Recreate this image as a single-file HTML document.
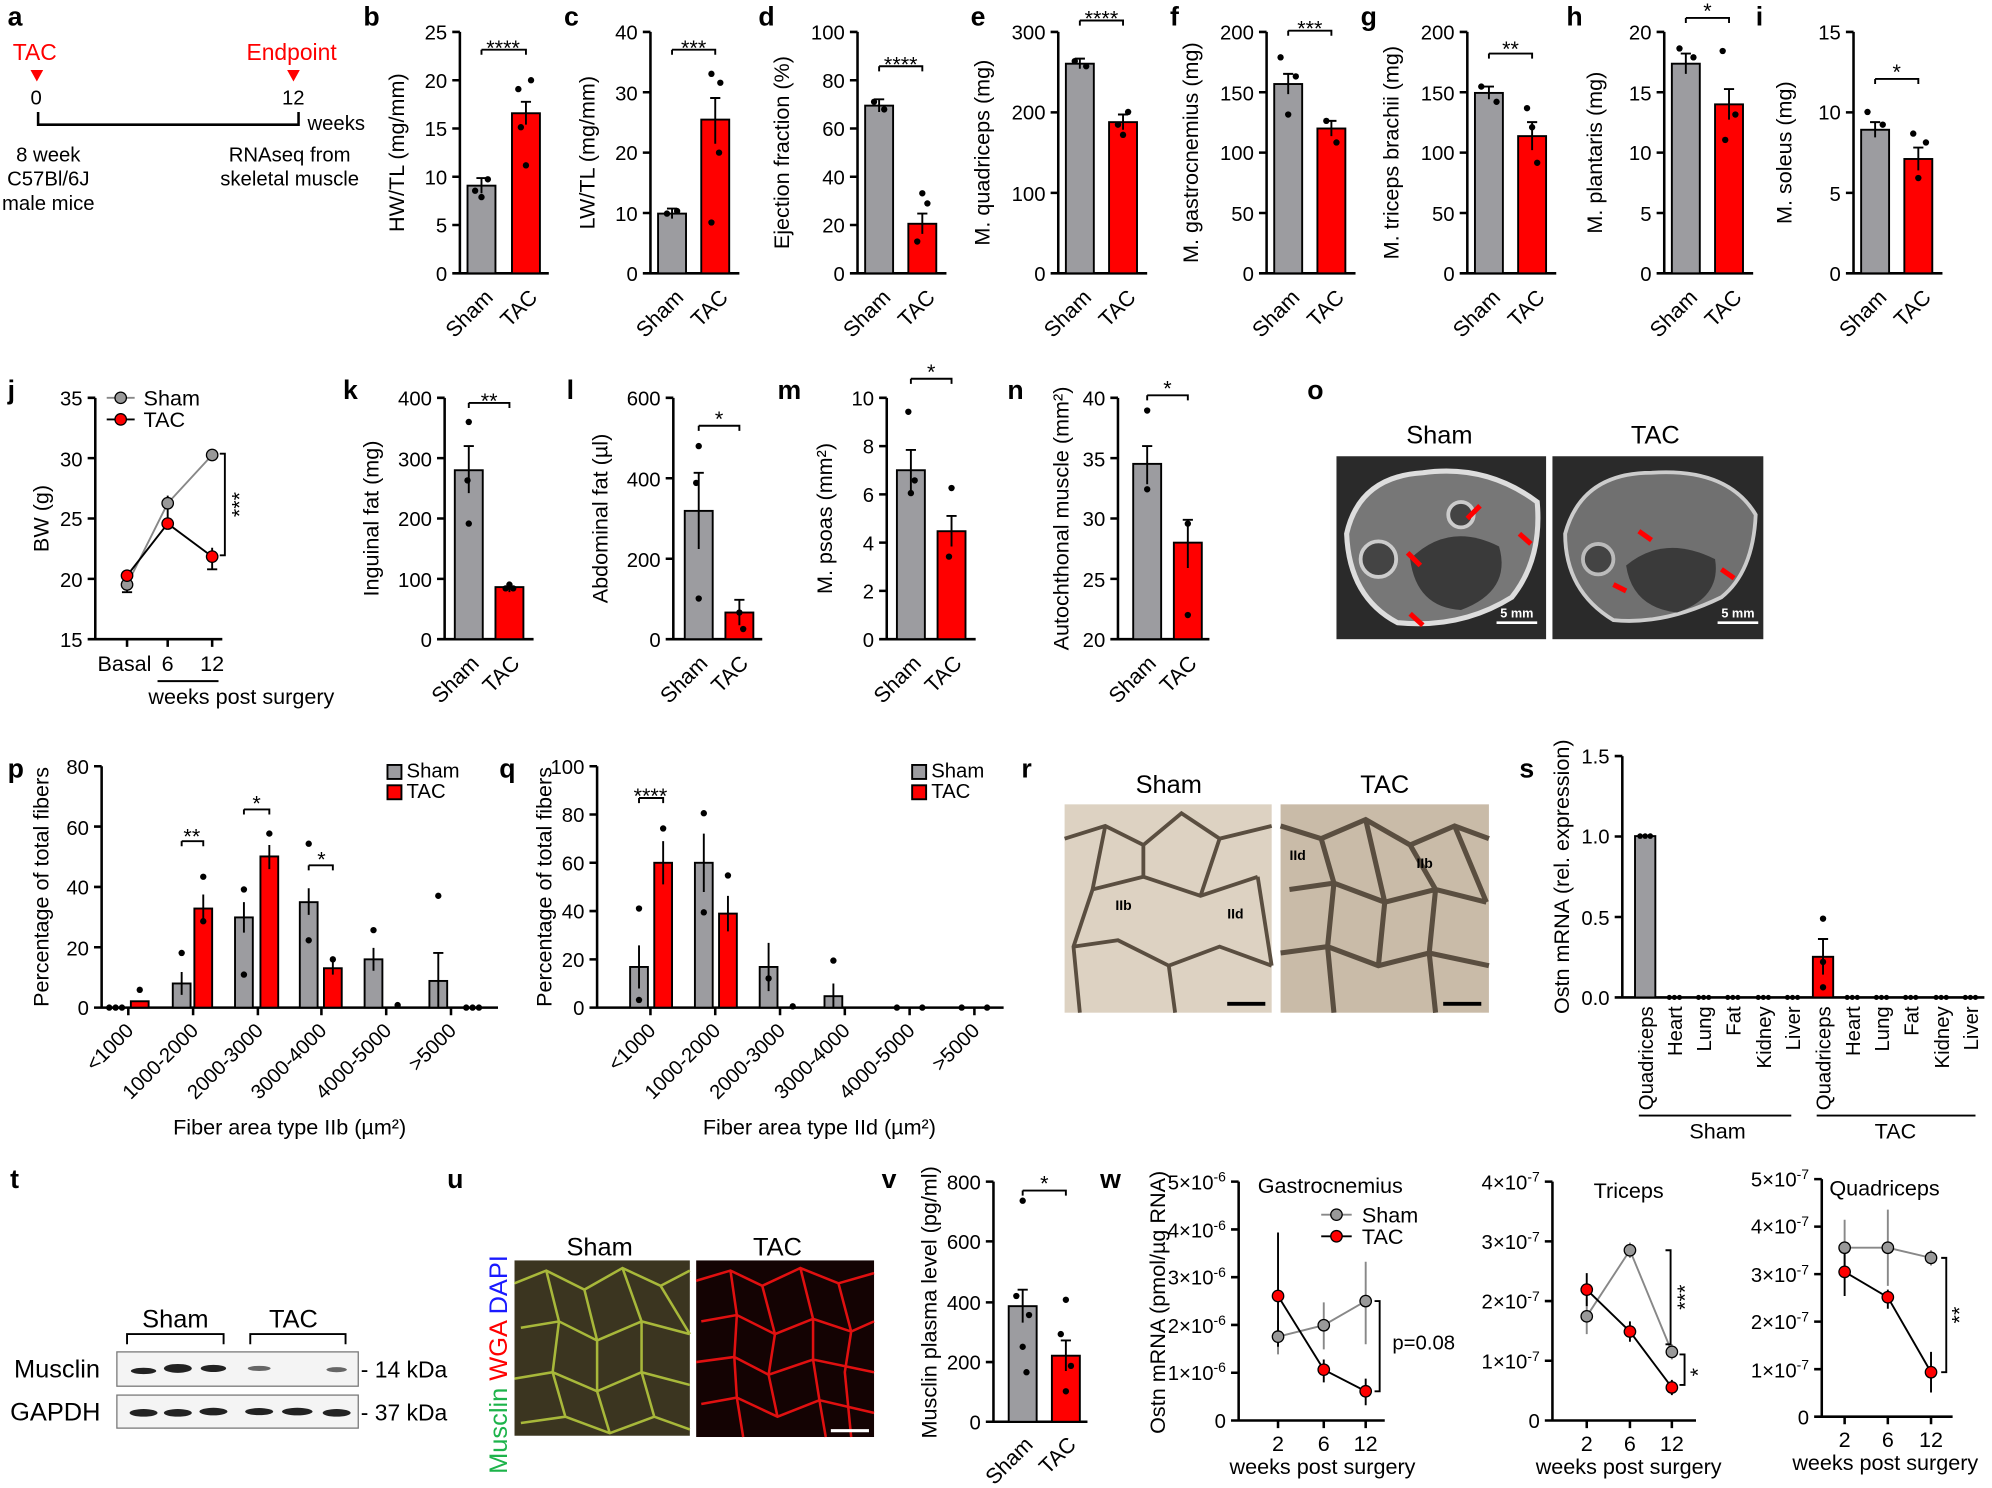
<!DOCTYPE html>
<html><head><meta charset="utf-8"><style>
html,body{margin:0;padding:0;background:#fff}
svg{display:block}
text{font-family:"Liberation Sans",sans-serif;fill:#000}
.t{font-size:16px}
.L{font-size:17px}
.H{font-size:20px}
.P{font-size:21px;font-weight:bold}
.g{fill:#9c9ca0;stroke:#000;stroke-width:1.5}
.r{fill:#f00;stroke:#000;stroke-width:1.5}
.ax{stroke:#000;stroke-width:2;fill:none}
.e{stroke:#000;stroke-width:1.5;fill:none}
</style></head><body>
<svg width="1992" height="1488" viewBox="0 0 1568 1171" xmlns="http://www.w3.org/2000/svg">
<!-- panel letters -->
<text class="P" x="6" y="20">a</text><text class="P" x="286" y="20">b</text><text class="P" x="444" y="20">c</text>
<text class="P" x="597" y="20">d</text><text class="P" x="764" y="20">e</text><text class="P" x="921" y="20">f</text>
<text class="P" x="1071" y="20">g</text><text class="P" x="1233" y="20">h</text><text class="P" x="1382" y="20">i</text>
<text class="P" x="6" y="314">j</text><text class="P" x="270" y="314">k</text><text class="P" x="446" y="314">l</text>
<text class="P" x="612" y="314">m</text><text class="P" x="793" y="314">n</text><text class="P" x="1029" y="314">o</text>
<text class="P" x="6" y="612">p</text><text class="P" x="393" y="612">q</text><text class="P" x="804" y="612">r</text>
<text class="P" x="1196" y="612">s</text>
<text class="P" x="8" y="935">t</text><text class="P" x="352" y="935">u</text><text class="P" x="694" y="935">v</text><text class="P" x="866" y="935">w</text>

<!-- a -->
<text x="10" y="47" font-size="18" style="fill:#f00">TAC</text>
<polygon points="24,55 34,55 29,64" fill="#f00"/>
<text class="t" x="24" y="82">0</text>
<text x="194" y="47" font-size="18" style="fill:#f00">Endpoint</text>
<polygon points="226,55 236,55 231,64" fill="#f00"/>
<text class="t" x="222" y="82">12</text>
<path class="ax" d="M30,88V98H235V88"/>
<text class="t" x="242" y="102">weeks</text>
<text class="t" x="38" y="127" text-anchor="middle">8 week</text>
<text class="t" x="38" y="146" text-anchor="middle">C57Bl/6J</text>
<text class="t" x="38" y="165" text-anchor="middle">male mice</text>
<text class="t" x="228" y="127" text-anchor="middle">RNAseq from</text>
<text class="t" x="228" y="146" text-anchor="middle">skeletal muscle</text>

<!-- b -->
<g>
<path class="ax" d="M362,25V215H432M356,25H362M356,63H362M356,101H362M356,139H362M356,177H362M356,215H362"/>
<g class="t" text-anchor="end"><text x="352" y="31">25</text><text x="352" y="69">20</text><text x="352" y="107">15</text><text x="352" y="145">10</text><text x="352" y="183">5</text><text x="352" y="221">0</text></g>
<rect class="g" x="368" y="146" width="22" height="69"/><rect class="r" x="403" y="89" width="22" height="126"/>
<path class="e" d="M379,140V152M375,140H383M414,80V98M410,80H418"/>
<path class="e" d="M379,39V43M379,39H414V43"/><text class="L" x="396" y="43" text-anchor="middle">****</text>
<text class="L" transform="translate(318,120) rotate(-90)" text-anchor="middle">HW/TL (mg/mm)</text>
<text class="L" transform="translate(389,235) rotate(-45)" text-anchor="end">Sham</text>
<text class="L" transform="translate(424,235) rotate(-45)" text-anchor="end">TAC</text>
<g fill="#000"><circle cx="374" cy="150" r="2.5"/><circle cx="384" cy="141" r="2.5"/><circle cx="379" cy="155" r="2.5"/><circle cx="408" cy="70" r="2.5"/><circle cx="418" cy="63" r="2.5"/><circle cx="414" cy="130" r="2.5"/><circle cx="410" cy="100" r="2.5"/></g>
</g>
<!-- c -->
<g>
<path class="ax" d="M512,25V215H582M506,25H512M506,72.5H512M506,120H512M506,167.5H512M506,215H512"/>
<g class="t" text-anchor="end"><text x="502" y="31">40</text><text x="502" y="79">30</text><text x="502" y="126">20</text><text x="502" y="174">10</text><text x="502" y="221">0</text></g>
<rect class="g" x="518" y="168" width="22" height="47"/><rect class="r" x="552" y="94" width="22" height="121"/>
<path class="e" d="M529,164V172M525,164H533M563,77V113M559,77H567"/>
<path class="e" d="M529,39V43M529,39H563V43"/><text class="L" x="546" y="43" text-anchor="middle">***</text>
<text class="L" transform="translate(468,120) rotate(-90)" text-anchor="middle">LW/TL (mg/mm)</text>
<text class="L" transform="translate(539,235) rotate(-45)" text-anchor="end">Sham</text>
<text class="L" transform="translate(574,235) rotate(-45)" text-anchor="end">TAC</text>
<g fill="#000"><circle cx="560" cy="58" r="2.5"/><circle cx="567" cy="65" r="2.5"/><circle cx="560" cy="175" r="2.5"/><circle cx="566" cy="120" r="2.5"/><circle cx="525" cy="168" r="2.5"/><circle cx="533" cy="166" r="2.5"/></g>
</g>
<!-- d -->
<g>
<path class="ax" d="M675,25V215H745M669,25H675M669,63H675M669,101H675M669,139H675M669,177H675M669,215H675"/>
<g class="t" text-anchor="end"><text x="665" y="31">100</text><text x="665" y="69">80</text><text x="665" y="107">60</text><text x="665" y="145">40</text><text x="665" y="183">20</text><text x="665" y="221">0</text></g>
<rect class="g" x="681" y="83" width="22" height="132"/><rect class="r" x="715" y="176" width="22" height="39"/>
<path class="e" d="M692,78V88M688,78H696M726,168V184M722,168H730"/>
<path class="e" d="M692,52V56M692,52H726V56"/><text class="L" x="709" y="56" text-anchor="middle">****</text>
<text class="L" transform="translate(621,120) rotate(-90)" text-anchor="middle">Ejection fraction (%)</text>
<text class="L" transform="translate(702,235) rotate(-45)" text-anchor="end">Sham</text>
<text class="L" transform="translate(737,235) rotate(-45)" text-anchor="end">TAC</text>
<g fill="#000"><circle cx="688" cy="80" r="2.5"/><circle cx="696" cy="86" r="2.5"/><circle cx="722" cy="190" r="2.5"/><circle cx="730" cy="160" r="2.5"/><circle cx="726" cy="152" r="2.5"/></g>
</g>
<!-- e -->
<g>
<path class="ax" d="M833,25V215H903M827,25H833M827,88.3H833M827,151.7H833M827,215H833"/>
<g class="t" text-anchor="end"><text x="823" y="31">300</text><text x="823" y="94">200</text><text x="823" y="158">100</text><text x="823" y="221">0</text></g>
<rect class="g" x="839" y="50" width="22" height="165"/><rect class="r" x="873" y="96" width="22" height="119"/>
<path class="e" d="M850,46V54M846,46H854M884,90V102M880,90H888"/>
<path class="e" d="M850,16V20M850,16H884V20"/><text class="L" x="867" y="20" text-anchor="middle">****</text>
<text class="L" transform="translate(779,120) rotate(-90)" text-anchor="middle">M. quadriceps (mg)</text>
<text class="L" transform="translate(860,235) rotate(-45)" text-anchor="end">Sham</text>
<text class="L" transform="translate(895,235) rotate(-45)" text-anchor="end">TAC</text>
<g fill="#000"><circle cx="846" cy="48" r="2.5"/><circle cx="855" cy="52" r="2.5"/><circle cx="880" cy="98" r="2.5"/><circle cx="888" cy="88" r="2.5"/><circle cx="884" cy="106" r="2.5"/></g>
</g>
<!-- f -->
<g>
<path class="ax" d="M997,25V215H1067M991,25H997M991,72.5H997M991,120H997M991,167.5H997M991,215H997"/>
<g class="t" text-anchor="end"><text x="987" y="31">200</text><text x="987" y="79">150</text><text x="987" y="126">100</text><text x="987" y="174">50</text><text x="987" y="221">0</text></g>
<rect class="g" x="1003" y="66" width="22" height="149"/><rect class="r" x="1037" y="101" width="22" height="114"/>
<path class="e" d="M1014,58V74M1010,58H1018M1048,95V107M1044,95H1052"/>
<path class="e" d="M1014,24V28M1014,24H1048V28"/><text class="L" x="1031" y="28" text-anchor="middle">***</text>
<text class="L" transform="translate(943,120) rotate(-90)" text-anchor="middle">M. gastrocnemius (mg)</text>
<text class="L" transform="translate(1024,235) rotate(-45)" text-anchor="end">Sham</text>
<text class="L" transform="translate(1059,235) rotate(-45)" text-anchor="end">TAC</text>
<g fill="#000"><circle cx="1008" cy="45" r="2.5"/><circle cx="1020" cy="60" r="2.5"/><circle cx="1014" cy="90" r="2.5"/><circle cx="1044" cy="95" r="2.5"/><circle cx="1052" cy="112" r="2.5"/></g>
</g>
<!-- g -->
<g>
<path class="ax" d="M1155,25V215H1225M1149,25H1155M1149,72.5H1155M1149,120H1155M1149,167.5H1155M1149,215H1155"/>
<g class="t" text-anchor="end"><text x="1145" y="31">200</text><text x="1145" y="79">150</text><text x="1145" y="126">100</text><text x="1145" y="174">50</text><text x="1145" y="221">0</text></g>
<rect class="g" x="1161" y="73" width="22" height="142"/><rect class="r" x="1195" y="107" width="22" height="108"/>
<path class="e" d="M1172,68V78M1168,68H1176M1206,96V118M1202,96H1210"/>
<path class="e" d="M1172,42V46M1172,42H1206V46"/><text class="L" x="1189" y="44" text-anchor="middle">**</text>
<text class="L" transform="translate(1101,120) rotate(-90)" text-anchor="middle">M. triceps brachii (mg)</text>
<text class="L" transform="translate(1182,235) rotate(-45)" text-anchor="end">Sham</text>
<text class="L" transform="translate(1217,235) rotate(-45)" text-anchor="end">TAC</text>
<g fill="#000"><circle cx="1166" cy="68" r="2.5"/><circle cx="1178" cy="80" r="2.5"/><circle cx="1202" cy="85" r="2.5"/><circle cx="1210" cy="128" r="2.5"/><circle cx="1206" cy="100" r="2.5"/></g>
</g>
<!-- h -->
<g>
<path class="ax" d="M1310,25V215H1380M1304,25H1310M1304,72.5H1310M1304,120H1310M1304,167.5H1310M1304,215H1310"/>
<g class="t" text-anchor="end"><text x="1300" y="31">20</text><text x="1300" y="79">15</text><text x="1300" y="126">10</text><text x="1300" y="174">5</text><text x="1300" y="221">0</text></g>
<rect class="g" x="1316" y="50" width="22" height="165"/><rect class="r" x="1350" y="82" width="22" height="133"/>
<path class="e" d="M1327,42V58M1323,42H1331M1361,70V94M1357,70H1365"/>
<path class="e" d="M1327,14V18M1327,14H1361V18"/><text class="L" x="1344" y="14" text-anchor="middle">*</text>
<text class="L" transform="translate(1261,120) rotate(-90)" text-anchor="middle">M. plantaris (mg)</text>
<text class="L" transform="translate(1337,235) rotate(-45)" text-anchor="end">Sham</text>
<text class="L" transform="translate(1372,235) rotate(-45)" text-anchor="end">TAC</text>
<g fill="#000"><circle cx="1322" cy="38" r="2.5"/><circle cx="1333" cy="45" r="2.5"/><circle cx="1356" cy="40" r="2.5"/><circle cx="1366" cy="90" r="2.5"/><circle cx="1358" cy="110" r="2.5"/></g>
</g>
<!-- i -->
<g>
<path class="ax" d="M1459,25V215H1529M1453,25H1459M1453,88.3H1459M1453,151.7H1459M1453,215H1459"/>
<g class="t" text-anchor="end"><text x="1449" y="31">15</text><text x="1449" y="94">10</text><text x="1449" y="158">5</text><text x="1449" y="221">0</text></g>
<rect class="g" x="1465" y="102" width="22" height="113"/><rect class="r" x="1499" y="125" width="22" height="90"/>
<path class="e" d="M1476,96V108M1472,96H1480M1510,116V134M1506,116H1514"/>
<path class="e" d="M1476,62V66M1476,62H1510V66"/><text class="L" x="1493" y="62" text-anchor="middle">*</text>
<text class="L" transform="translate(1410,120) rotate(-90)" text-anchor="middle">M. soleus (mg)</text>
<text class="L" transform="translate(1486,235) rotate(-45)" text-anchor="end">Sham</text>
<text class="L" transform="translate(1521,235) rotate(-45)" text-anchor="end">TAC</text>
<g fill="#000"><circle cx="1470" cy="88" r="2.5"/><circle cx="1482" cy="98" r="2.5"/><circle cx="1506" cy="105" r="2.5"/><circle cx="1516" cy="112" r="2.5"/><circle cx="1510" cy="140" r="2.5"/></g>
</g>

<!-- j -->
<g>
<path class="ax" d="M75,313V503H175M69,313H75M69,360.5H75M69,408H75M69,455.5H75M69,503H75M100,503V509M132,503V509M167,503V509"/>
<g class="t" text-anchor="end"><text x="65" y="319">35</text><text x="65" y="367">30</text><text x="65" y="414">25</text><text x="65" y="462">20</text><text x="65" y="509">15</text></g>
<text class="L" transform="translate(38,408) rotate(-90)" text-anchor="middle">BW (g)</text>
<path stroke="#888" stroke-width="1.5" fill="none" d="M100,460L132,396L167,358"/>
<path stroke="#000" stroke-width="1.5" fill="none" d="M100,453L132,412L167,438M100,453V466M132,390V416M167,431V448M96,466H104M163,448H171"/>
<g stroke="#000" stroke-width="1"><circle cx="100" cy="460" r="4.5" fill="#999"/><circle cx="132" cy="396" r="4.5" fill="#999"/><circle cx="167" cy="358" r="4.5" fill="#999"/><circle cx="100" cy="453" r="4.5" fill="#f00"/><circle cx="132" cy="412" r="4.5" fill="#f00"/><circle cx="167" cy="438" r="4.5" fill="#f00"/></g>
<path stroke="#888" stroke-width="1.5" d="M84,313H106"/><circle cx="95" cy="313" r="4.5" fill="#999" stroke="#000"/>
<path stroke="#000" stroke-width="1.5" d="M84,330H106"/><circle cx="95" cy="330" r="4.5" fill="#f00" stroke="#000"/>
<text class="L" x="113" y="319">Sham</text><text class="L" x="113" y="336">TAC</text>
<path class="e" d="M173,357H177V437H173"/>
<text class="L" transform="translate(194,397) rotate(-90)" text-anchor="middle">***</text>
<text class="L" x="98" y="528" text-anchor="middle">Basal</text><text class="L" x="132" y="528" text-anchor="middle">6</text><text class="L" x="167" y="528" text-anchor="middle">12</text>
<path class="e" d="M124,536H172"/>
<text class="L" x="190" y="554" text-anchor="middle">weeks post surgery</text>
</g>
<!-- k -->
<g>
<path class="ax" d="M350,313V503H420M344,313H350M344,360.5H350M344,408H350M344,455.5H350M344,503H350"/>
<g class="t" text-anchor="end"><text x="340" y="319">400</text><text x="340" y="367">300</text><text x="340" y="414">200</text><text x="340" y="462">100</text><text x="340" y="509">0</text></g>
<rect class="g" x="358" y="370" width="22" height="133"/><rect class="r" x="390" y="462" width="22" height="41"/>
<path class="e" d="M369,351V388M365,351H373M401,458V466"/>
<path class="e" d="M369,317V321M369,317H401V321"/><text class="L" x="385" y="321" text-anchor="middle">**</text>
<text class="L" transform="translate(298,408) rotate(-90)" text-anchor="middle">Inguinal fat (mg)</text>
<text class="L" transform="translate(378,523) rotate(-45)" text-anchor="end">Sham</text>
<text class="L" transform="translate(410,523) rotate(-45)" text-anchor="end">TAC</text>
<g fill="#000"><circle cx="369" cy="332" r="2.5"/><circle cx="369" cy="412" r="2.5"/><circle cx="368" cy="378" r="2.5"/><circle cx="401" cy="460" r="2.5"/><circle cx="398" cy="463" r="2.5"/><circle cx="404" cy="463" r="2.5"/></g>
</g>
<!-- l -->
<g>
<path class="ax" d="M530,313V503H600M524,313H530M524,376.3H530M524,439.7H530M524,503H530"/>
<g class="t" text-anchor="end"><text x="520" y="319">600</text><text x="520" y="383">400</text><text x="520" y="446">200</text><text x="520" y="509">0</text></g>
<rect class="g" x="539" y="402" width="22" height="101"/><rect class="r" x="571" y="482" width="22" height="21"/>
<path class="e" d="M550,372V432M546,372H554M582,472V492M578,472H586"/>
<path class="e" d="M550,335V339M550,335H582V339"/><text class="L" x="566" y="335" text-anchor="middle">*</text>
<text class="L" transform="translate(478,408) rotate(-90)" text-anchor="middle">Abdominal fat (µl)</text>
<text class="L" transform="translate(558,523) rotate(-45)" text-anchor="end">Sham</text>
<text class="L" transform="translate(590,523) rotate(-45)" text-anchor="end">TAC</text>
<g fill="#000"><circle cx="550" cy="351" r="2.5"/><circle cx="550" cy="471" r="2.5"/><circle cx="548" cy="380" r="2.5"/><circle cx="582" cy="482" r="2.5"/><circle cx="585" cy="495" r="2.5"/></g>
</g>
<!-- m -->
<g>
<path class="ax" d="M698,313V503H768M692,313H698M692,351H698M692,389H698M692,427H698M692,465H698M692,503H698"/>
<g class="t" text-anchor="end"><text x="688" y="319">10</text><text x="688" y="357">8</text><text x="688" y="395">6</text><text x="688" y="433">4</text><text x="688" y="471">2</text><text x="688" y="509">0</text></g>
<rect class="g" x="706" y="370" width="22" height="133"/><rect class="r" x="738" y="418" width="22" height="85"/>
<path class="e" d="M717,354V388M713,354H721M749,406V430M745,406H753"/>
<path class="e" d="M717,298V302M717,298H749V302"/><text class="L" x="733" y="298" text-anchor="middle">*</text>
<text class="L" transform="translate(655,408) rotate(-90)" text-anchor="middle">M. psoas (mm²)</text>
<text class="L" transform="translate(726,523) rotate(-45)" text-anchor="end">Sham</text>
<text class="L" transform="translate(758,523) rotate(-45)" text-anchor="end">TAC</text>
<g fill="#000"><circle cx="715" cy="324" r="2.5"/><circle cx="717" cy="388" r="2.5"/><circle cx="720" cy="378" r="2.5"/><circle cx="749" cy="384" r="2.5"/><circle cx="747" cy="438" r="2.5"/></g>
</g>
<!-- n -->
<g>
<path class="ax" d="M880,313V503H952M874,313H880M874,360.5H880M874,408H880M874,455.5H880M874,503H880"/>
<g class="t" text-anchor="end"><text x="870" y="319">40</text><text x="870" y="367">35</text><text x="870" y="414">30</text><text x="870" y="462">25</text><text x="870" y="509">20</text></g>
<rect class="g" x="892" y="365" width="22" height="138"/><rect class="r" x="924" y="427" width="22" height="76"/>
<path class="e" d="M903,351V381M899,351H907M935,409V447M931,409H939"/>
<path class="e" d="M903,311V315M903,311H935V315"/><text class="L" x="919" y="311" text-anchor="middle">*</text>
<text class="L" transform="translate(841,408) rotate(-90)" text-anchor="middle">Autochthonal muscle (mm²)</text>
<text class="L" transform="translate(911,523) rotate(-45)" text-anchor="end">Sham</text>
<text class="L" transform="translate(943,523) rotate(-45)" text-anchor="end">TAC</text>
<g fill="#000"><circle cx="903" cy="323" r="2.5"/><circle cx="903" cy="385" r="2.5"/><circle cx="935" cy="412" r="2.5"/><circle cx="935" cy="484" r="2.5"/></g>
</g>
<!-- o -->
<g>
<text class="H" x="1133" y="349" text-anchor="middle">Sham</text>
<text class="H" x="1303" y="349" text-anchor="middle">TAC</text>
<rect x="1052" y="359" width="165" height="144" fill="#2a2a2a"/>
<rect x="1222" y="359" width="166" height="144" fill="#2a2a2a"/>
<path d="M1060,420Q1070,375 1120,372Q1170,365 1210,395Q1214,440 1190,470Q1150,495 1100,490Q1062,470 1060,420Z" fill="#777" stroke="#ddd" stroke-width="4"/>
<path d="M1110,440Q1140,410 1180,430Q1190,465 1150,480Q1115,478 1110,440Z" fill="#3a3a3a"/>
<circle cx="1085" cy="440" r="14" fill="#444" stroke="#ccc" stroke-width="3"/>
<circle cx="1150" cy="405" r="10" fill="#444" stroke="#ccc" stroke-width="3"/>
<path d="M1232,420Q1245,372 1300,372Q1360,368 1382,405Q1380,450 1355,470Q1310,492 1270,488Q1232,465 1232,420Z" fill="#707070" stroke="#ccc" stroke-width="3"/>
<path d="M1280,445Q1310,420 1350,440Q1355,470 1320,482Q1285,478 1280,445Z" fill="#3a3a3a"/>
<circle cx="1258" cy="440" r="12" fill="#444" stroke="#bbb" stroke-width="3"/>
<g stroke="#f00" stroke-width="4" fill="#f00">
<path d="M1165,398L1155,408"/><path d="M1118,445L1108,435"/><path d="M1205,428L1196,420"/><path d="M1120,492L1110,483"/>
<path d="M1300,425L1290,418"/><path d="M1365,455L1355,448"/><path d="M1280,465L1270,460"/>
</g>
<path d="M1178,490H1210M1352,490H1384" stroke="#fff" stroke-width="2"/>
<text x="1194" y="486" font-size="10" text-anchor="middle" style="fill:#fff;font-weight:bold">5 mm</text>
<text x="1368" y="486" font-size="10" text-anchor="middle" style="fill:#fff;font-weight:bold">5 mm</text>
</g>

<!-- p -->
<g>
<path class="ax" d="M80,603V793H392M74,603H80M74,650.5H80M74,698H80M74,745.5H80M74,793H80M101,793V799M152,793V799M203,793V799M253,793V799M304,793V799M355,793V799"/>
<g class="t" text-anchor="end"><text x="70" y="609">80</text><text x="70" y="657">60</text><text x="70" y="704">40</text><text x="70" y="752">20</text><text x="70" y="799">0</text></g>
<text class="L" transform="translate(38,698) rotate(-90)" text-anchor="middle">Percentage of total fibers</text>
<rect class="r" x="103" y="788" width="14" height="5"/>
<rect class="g" x="136" y="774" width="14" height="19"/><rect class="r" x="153" y="715" width="14" height="78"/>
<rect class="g" x="185" y="722" width="14" height="71"/><rect class="r" x="205" y="674" width="14" height="119"/>
<rect class="g" x="236" y="710" width="14" height="83"/><rect class="r" x="255" y="762" width="14" height="31"/>
<rect class="g" x="287" y="755" width="14" height="38"/>
<rect class="g" x="338" y="772" width="14" height="21"/>
<path class="e" d="M143,765V783M160,704V725M192,710V734M212,665V684M243,699V720M262,757V767M294,746V764M345,750V793M341,750H349"/>
<path class="e" d="M143,662V666M143,662H160V666M192,637V641M192,637H212V641M243,681V685M243,681H262V685"/>
<text class="L" x="151" y="664" text-anchor="middle">**</text><text class="L" x="202" y="638" text-anchor="middle">*</text><text class="L" x="253" y="682" text-anchor="middle">*</text>
<g fill="#000"><circle cx="110" cy="779" r="2.5"/><circle cx="86" cy="793" r="2.5"/><circle cx="91" cy="793" r="2.5"/><circle cx="96" cy="793" r="2.5"/><circle cx="143" cy="750" r="2.5"/><circle cx="160" cy="690" r="2.5"/><circle cx="160" cy="725" r="2.5"/><circle cx="192" cy="700" r="2.5"/><circle cx="192" cy="767" r="2.5"/><circle cx="212" cy="656" r="2.5"/><circle cx="243" cy="664" r="2.5"/><circle cx="243" cy="740" r="2.5"/><circle cx="262" cy="755" r="2.5"/><circle cx="294" cy="732" r="2.5"/><circle cx="345" cy="705" r="2.5"/><circle cx="313" cy="791" r="2.5"/><circle cx="367" cy="793" r="2.5"/><circle cx="372" cy="793" r="2.5"/><circle cx="377" cy="793" r="2.5"/></g>
<rect class="g" x="305" y="602" width="11" height="11"/><rect class="r" x="305" y="618" width="11" height="11"/>
<text class="t" x="320" y="612">Sham</text><text class="t" x="320" y="628">TAC</text>
<g class="t" text-anchor="end">
<text transform="translate(106,812) rotate(-45)">&lt;1000</text><text transform="translate(157,812) rotate(-45)">1000-2000</text><text transform="translate(208,812) rotate(-45)">2000-3000</text><text transform="translate(258,812) rotate(-45)">3000-4000</text><text transform="translate(309,812) rotate(-45)">4000-5000</text><text transform="translate(360,812) rotate(-45)">&gt;5000</text></g>
<text class="L" x="228" y="893" text-anchor="middle">Fiber area type IIb (µm²)</text>
</g>
<!-- q -->
<g>
<path class="ax" d="M470,603V793H790M464,603H470M464,641H470M464,679H470M464,717H470M464,755H470M464,793H470M512,793V799M563,793V799M614,793V799M665,793V799M716,793V799M767,793V799"/>
<g class="t" text-anchor="end"><text x="460" y="609">100</text><text x="460" y="647">80</text><text x="460" y="685">60</text><text x="460" y="723">40</text><text x="460" y="761">20</text><text x="460" y="799">0</text></g>
<text class="L" transform="translate(440,698) rotate(-90)" text-anchor="middle" dx="0" dy="-6">Percentage of total fibers</text>
<rect class="g" x="496" y="761" width="14" height="32"/><rect class="r" x="515" y="679" width="14" height="114"/>
<rect class="g" x="547" y="679" width="14" height="114"/><rect class="r" x="566" y="719" width="14" height="74"/>
<rect class="g" x="598" y="761" width="14" height="32"/>
<rect class="g" x="649" y="784" width="14" height="9"/>
<path class="e" d="M503,744V778M522,662V696M554,656V702M573,705V733M605,742V780M656,774V793"/>
<path class="e" d="M503,628V632M503,628H522V632"/><text class="L" x="512" y="632" text-anchor="middle">****</text>
<g fill="#000"><circle cx="503" cy="715" r="2.5"/><circle cx="503" cy="787" r="2.5"/><circle cx="522" cy="652" r="2.5"/><circle cx="554" cy="640" r="2.5"/><circle cx="554" cy="718" r="2.5"/><circle cx="573" cy="689" r="2.5"/><circle cx="605" cy="770" r="2.5"/><circle cx="656" cy="756" r="2.5"/><circle cx="624" cy="792" r="2.5"/><circle cx="706" cy="793" r="2.5"/><circle cx="726" cy="793" r="2.5"/><circle cx="757" cy="793" r="2.5"/><circle cx="777" cy="793" r="2.5"/></g>
<rect class="g" x="718" y="602" width="11" height="11"/><rect class="r" x="718" y="618" width="11" height="11"/>
<text class="t" x="733" y="612">Sham</text><text class="t" x="733" y="628">TAC</text>
<g class="t" text-anchor="end">
<text transform="translate(517,812) rotate(-45)">&lt;1000</text><text transform="translate(568,812) rotate(-45)">1000-2000</text><text transform="translate(619,812) rotate(-45)">2000-3000</text><text transform="translate(670,812) rotate(-45)">3000-4000</text><text transform="translate(721,812) rotate(-45)">4000-5000</text><text transform="translate(772,812) rotate(-45)">&gt;5000</text></g>
<text class="L" x="645" y="893" text-anchor="middle">Fiber area type IId (µm²)</text>
</g>
<!-- r -->
<g>
<text class="H" x="920" y="624" text-anchor="middle">Sham</text>
<text class="H" x="1090" y="624" text-anchor="middle">TAC</text>
<rect x="838" y="633" width="163" height="164" fill="#ddd2c2"/>
<rect x="1008" y="633" width="164" height="164" fill="#c9bba8"/>
<g stroke="#5a4e40" stroke-width="3" fill="none">
<path d="M838,660L870,650L900,665L930,640L960,660L1001,650M860,700L900,690L945,705L990,690M845,745L880,740L920,760L960,745L1001,760M870,650L860,700L845,745L850,797M900,665L900,690M945,705L960,660M920,760L925,797M990,690L1001,760"/>
<path stroke-width="4" d="M1008,650L1040,660L1075,645L1110,665L1145,650L1172,660M1015,700L1050,695L1090,710L1130,700L1170,710M1008,750L1045,745L1085,760L1125,750L1172,760M1040,660L1050,695L1045,745L1050,797M1075,645L1090,710L1085,760M1110,665L1130,700L1125,750L1130,797M1145,650L1170,710"/>
</g>
<text x="878" y="716" font-size="11" font-weight="bold">IIb</text><text x="966" y="723" font-size="11" font-weight="bold">IId</text>
<text x="1015" y="677" font-size="11" font-weight="bold">IId</text><text x="1115" y="683" font-size="11" font-weight="bold">IIb</text>
<path d="M966,790H996M1136,790H1166" stroke="#000" stroke-width="3"/>
</g>
<!-- s -->
<g>
<path class="ax" d="M1277,595V785H1562M1271,595H1277M1271,658.3H1277M1271,721.7H1277M1271,785H1277"/>
<g class="t" text-anchor="end"><text x="1267" y="601">1.5</text><text x="1267" y="664">1.0</text><text x="1267" y="728">0.5</text><text x="1267" y="791">0.0</text></g>
<text class="L" transform="translate(1235,690) rotate(-90)" text-anchor="middle">Ostn mRNA (rel. expression)</text>
<rect class="g" x="1287" y="658" width="16" height="127"/>
<rect class="r" x="1427" y="753" width="16" height="32"/>
<path class="e" d="M1435,739V767M1431,739H1439"/>
<g fill="#000"><circle cx="1291" cy="658" r="2.2"/><circle cx="1295" cy="658" r="2.2"/><circle cx="1299" cy="658" r="2.2"/><circle cx="1435" cy="723" r="2.5"/><circle cx="1435" cy="757" r="2.5"/><circle cx="1435" cy="777" r="2.5"/>
<circle cx="1314" cy="785" r="2"/><circle cx="1318" cy="785" r="2"/><circle cx="1322" cy="785" r="2"/><circle cx="1337" cy="785" r="2"/><circle cx="1341" cy="785" r="2"/><circle cx="1345" cy="785" r="2"/><circle cx="1360" cy="785" r="2"/><circle cx="1364" cy="785" r="2"/><circle cx="1368" cy="785" r="2"/><circle cx="1384" cy="785" r="2"/><circle cx="1388" cy="785" r="2"/><circle cx="1392" cy="785" r="2"/><circle cx="1407" cy="785" r="2"/><circle cx="1411" cy="785" r="2"/><circle cx="1415" cy="785" r="2"/>
<circle cx="1454" cy="785" r="2"/><circle cx="1458" cy="785" r="2"/><circle cx="1462" cy="785" r="2"/><circle cx="1477" cy="785" r="2"/><circle cx="1481" cy="785" r="2"/><circle cx="1485" cy="785" r="2"/><circle cx="1500" cy="785" r="2"/><circle cx="1504" cy="785" r="2"/><circle cx="1508" cy="785" r="2"/><circle cx="1524" cy="785" r="2"/><circle cx="1528" cy="785" r="2"/><circle cx="1532" cy="785" r="2"/><circle cx="1547" cy="785" r="2"/><circle cx="1551" cy="785" r="2"/><circle cx="1555" cy="785" r="2"/></g>
<g class="t" text-anchor="end">
<text transform="translate(1301,792) rotate(-90)">Quadriceps</text><text transform="translate(1324,792) rotate(-90)">Heart</text><text transform="translate(1347,792) rotate(-90)">Lung</text><text transform="translate(1370,792) rotate(-90)">Fat</text><text transform="translate(1394,792) rotate(-90)">Kidney</text><text transform="translate(1417,792) rotate(-90)">Liver</text>
<text transform="translate(1441,792) rotate(-90)">Quadriceps</text><text transform="translate(1464,792) rotate(-90)">Heart</text><text transform="translate(1487,792) rotate(-90)">Lung</text><text transform="translate(1510,792) rotate(-90)">Fat</text><text transform="translate(1534,792) rotate(-90)">Kidney</text><text transform="translate(1557,792) rotate(-90)">Liver</text></g>
<path class="e" d="M1290,878H1410M1430,878H1555"/>
<text class="L" x="1352" y="896" text-anchor="middle">Sham</text><text class="L" x="1492" y="896" text-anchor="middle">TAC</text>
</g>

<!-- t -->
<g>
<text class="H" x="138" y="1045" text-anchor="middle">Sham</text>
<text class="H" x="231" y="1045" text-anchor="middle">TAC</text>
<path class="e" d="M100,1058V1050H176V1058M197,1058V1050H272V1058"/>
<rect x="92" y="1064" width="190" height="27" fill="#f4f4f4" stroke="#777"/>
<rect x="92" y="1098" width="190" height="26" fill="#f4f4f4" stroke="#777"/>
<g fill="#222"><ellipse cx="113" cy="1079" rx="10" ry="2.5"/><ellipse cx="140" cy="1077" rx="11" ry="3.5"/><ellipse cx="168" cy="1077" rx="10" ry="2.8"/><ellipse cx="204" cy="1077" rx="9" ry="2" fill="#666"/><ellipse cx="265" cy="1078" rx="8" ry="2" fill="#666"/>
<ellipse cx="113" cy="1112" rx="11" ry="3"/><ellipse cx="140" cy="1112" rx="11" ry="3"/><ellipse cx="168" cy="1111" rx="11" ry="3"/><ellipse cx="204" cy="1111" rx="11" ry="2.8"/><ellipse cx="234" cy="1111" rx="12" ry="3"/><ellipse cx="265" cy="1112" rx="11" ry="3"/></g>
<text x="11" y="1084" font-size="20">Musclin</text><text x="8" y="1118" font-size="20">GAPDH</text>
<text x="284" y="1084" font-size="18">- 14 kDa</text><text x="284" y="1118" font-size="18">- 37 kDa</text>
</g>
<!-- u -->
<g>
<text class="H" x="472" y="988" text-anchor="middle">Sham</text>
<text class="H" x="612" y="988" text-anchor="middle">TAC</text>
<rect x="405" y="992" width="138" height="138" fill="#3b3520"/>
<rect x="548" y="992" width="140" height="139" fill="#140303"/>
<g stroke="#a8b83a" stroke-width="2" fill="none">
<path d="M405,1010L430,1000L460,1015L490,998L520,1012L543,1000M410,1045L440,1040L470,1055L505,1040L543,1050M405,1085L435,1080L470,1095L505,1080L543,1090M410,1120L445,1115L480,1128L515,1115L543,1125M430,1000L440,1040L435,1080L445,1115M460,1015L470,1055L470,1095L480,1128M490,998L505,1040L505,1080L515,1115M520,1012L543,1050"/>
</g>
<g stroke="#e01010" stroke-width="2" fill="none">
<path d="M548,1008L575,1000L600,1012L630,998L660,1010L688,1002M552,1040L580,1035L610,1050L640,1038L670,1048L688,1040M548,1072L578,1068L605,1082L640,1070L688,1080M552,1105L580,1100L612,1115L645,1102L688,1112M575,1000L580,1035L578,1068L580,1100L585,1131M600,1012L610,1050L605,1082L612,1115M630,998L640,1038L640,1070L645,1102L650,1131M660,1010L670,1048L665,1080L670,1131"/>
</g>
<path d="M654,1126H684" stroke="#fff" stroke-width="2.5"/>
<text transform="translate(399,1160) rotate(-90)" font-size="20"><tspan style="fill:#1db34a">Musclin </tspan><tspan style="fill:#f00">WGA </tspan><tspan style="fill:#1a1aff">DAPI</tspan></text>
</g>
<!-- v -->
<g>
<path class="ax" d="M782,930V1119H856M776,930H782M776,977H782M776,1025H782M776,1072H782M776,1119H782"/>
<g class="t" text-anchor="end"><text x="772" y="936">800</text><text x="772" y="983">600</text><text x="772" y="1031">400</text><text x="772" y="1078">200</text><text x="772" y="1125">0</text></g>
<rect class="g" x="794" y="1028" width="22" height="91"/><rect class="r" x="828" y="1067" width="22" height="52"/>
<path class="e" d="M805,1015V1041M801,1015H809M839,1055V1079M835,1055H843"/>
<path class="e" d="M805,937V941M805,937H839V941"/><text class="L" x="822" y="937" text-anchor="middle">*</text>
<text class="L" transform="translate(737,1025) rotate(-90)" text-anchor="middle">Musclin plasma level (pg/ml)</text>
<text class="L" transform="translate(814,1138) rotate(-45)" text-anchor="end">Sham</text>
<text class="L" transform="translate(848,1138) rotate(-45)" text-anchor="end">TAC</text>
<g fill="#000"><circle cx="805" cy="945" r="2.5"/><circle cx="800" cy="1020" r="2.5"/><circle cx="810" cy="1035" r="2.5"/><circle cx="805" cy="1060" r="2.5"/><circle cx="808" cy="1080" r="2.5"/><circle cx="839" cy="1023" r="2.5"/><circle cx="835" cy="1050" r="2.5"/><circle cx="843" cy="1075" r="2.5"/><circle cx="839" cy="1095" r="2.5"/></g>
</g>
<!-- w1 -->
<g>
<path class="ax" d="M975,930V1118H1090M969,930H975M969,967.6H975M969,1005.2H975M969,1042.8H975M969,1080.4H975M969,1118H975M1006,1118V1124M1042,1118V1124M1075,1118V1124"/>
<g class="t" text-anchor="end"><text x="965" y="936">5×10<tspan dy="-6" font-size="11">-6</tspan></text><text x="965" y="974">4×10<tspan dy="-6" font-size="11">-6</tspan></text><text x="965" y="1011">3×10<tspan dy="-6" font-size="11">-6</tspan></text><text x="965" y="1049">2×10<tspan dy="-6" font-size="11">-6</tspan></text><text x="965" y="1086">1×10<tspan dy="-6" font-size="11">-6</tspan></text><text x="965" y="1124">0</text></g>
<text class="L" transform="translate(917,1025) rotate(-90)" text-anchor="middle">Ostn mRNA (pmol/µg RNA)</text>
<text class="L" x="990" y="939">Gastrocnemius</text>
<path stroke="#888" stroke-width="1.5" fill="none" d="M1006,1052L1042,1043L1075,1024M1006,1040V1066M1042,1025V1062M1075,993V1058"/>
<path stroke="#000" stroke-width="1.5" fill="none" d="M1006,1020L1042,1078L1075,1095M1006,970V1060M1042,1070V1088M1075,1085V1106"/>
<g stroke="#000"><circle cx="1006" cy="1052" r="4.5" fill="#999"/><circle cx="1042" cy="1043" r="4.5" fill="#999"/><circle cx="1075" cy="1024" r="4.5" fill="#999"/><circle cx="1006" cy="1020" r="4.5" fill="#f00"/><circle cx="1042" cy="1078" r="4.5" fill="#f00"/><circle cx="1075" cy="1095" r="4.5" fill="#f00"/></g>
<path stroke="#888" stroke-width="1.5" d="M1040,956H1064"/><circle cx="1052" cy="956" r="4.5" fill="#999" stroke="#000"/>
<path stroke="#000" stroke-width="1.5" d="M1040,973H1064"/><circle cx="1052" cy="973" r="4.5" fill="#f00" stroke="#000"/>
<text class="L" x="1072" y="962">Sham</text><text class="L" x="1072" y="979">TAC</text>
<path class="e" d="M1082,1024H1086V1095H1082"/>
<text class="t" x="1096" y="1062">p=0.08</text>
<text class="L" x="1006" y="1142" text-anchor="middle">2</text><text class="L" x="1042" y="1142" text-anchor="middle">6</text><text class="L" x="1075" y="1142" text-anchor="middle">12</text>
<text class="L" x="1041" y="1160" text-anchor="middle">weeks post surgery</text>
</g>
<!-- w2 -->
<g>
<path class="ax" d="M1222,930V1118H1335M1216,930H1222M1216,977H1222M1216,1024H1222M1216,1071H1222M1216,1118H1222M1249,1118V1124M1283,1118V1124M1316,1118V1124"/>
<g class="t" text-anchor="end"><text x="1212" y="936">4×10<tspan dy="-6" font-size="11">-7</tspan></text><text x="1212" y="983">3×10<tspan dy="-6" font-size="11">-7</tspan></text><text x="1212" y="1030">2×10<tspan dy="-6" font-size="11">-7</tspan></text><text x="1212" y="1077">1×10<tspan dy="-6" font-size="11">-7</tspan></text><text x="1212" y="1124">0</text></g>
<text class="L" x="1282" y="943" text-anchor="middle">Triceps</text>
<path stroke="#888" stroke-width="1.5" fill="none" d="M1249,1036L1283,984L1316,1064M1249,1022V1050M1283,978V990M1316,1058V1070"/>
<path stroke="#000" stroke-width="1.5" fill="none" d="M1249,1015L1283,1048L1316,1092M1249,1002V1028M1283,1040V1056M1316,1086V1098"/>
<g stroke="#000"><circle cx="1249" cy="1036" r="4.5" fill="#999"/><circle cx="1283" cy="984" r="4.5" fill="#999"/><circle cx="1316" cy="1064" r="4.5" fill="#999"/><circle cx="1249" cy="1015" r="4.5" fill="#f00"/><circle cx="1283" cy="1048" r="4.5" fill="#f00"/><circle cx="1316" cy="1092" r="4.5" fill="#f00"/></g>
<path class="e" d="M1311,984H1315V1058H1311M1322,1066H1326V1090H1322"/>
<text class="L" transform="translate(1332,1021) rotate(-90)" text-anchor="middle">***</text>
<text class="L" transform="translate(1342,1080) rotate(-90)" text-anchor="middle">*</text>
<text class="L" x="1249" y="1142" text-anchor="middle">2</text><text class="L" x="1283" y="1142" text-anchor="middle">6</text><text class="L" x="1316" y="1142" text-anchor="middle">12</text>
<text class="L" x="1282" y="1160" text-anchor="middle">weeks post surgery</text>
</g>
<!-- w3 -->
<g>
<path class="ax" d="M1434,928V1115H1537M1428,928H1434M1428,965.4H1434M1428,1002.8H1434M1428,1040.2H1434M1428,1077.6H1434M1428,1115H1434M1452,1115V1121M1486,1115V1121M1520,1115V1121"/>
<g class="t" text-anchor="end"><text x="1424" y="934">5×10<tspan dy="-6" font-size="11">-7</tspan></text><text x="1424" y="971">4×10<tspan dy="-6" font-size="11">-7</tspan></text><text x="1424" y="1009">3×10<tspan dy="-6" font-size="11">-7</tspan></text><text x="1424" y="1046">2×10<tspan dy="-6" font-size="11">-7</tspan></text><text x="1424" y="1084">1×10<tspan dy="-6" font-size="11">-7</tspan></text><text x="1424" y="1121">0</text></g>
<text class="L" x="1440" y="941">Quadriceps</text>
<path stroke="#888" stroke-width="1.5" fill="none" d="M1452,982L1486,982L1520,990M1452,960V1004M1486,952V1012M1520,984V996"/>
<path stroke="#000" stroke-width="1.5" fill="none" d="M1452,1001L1486,1021L1520,1080M1452,985V1020M1486,1015V1030M1520,1064V1096"/>
<g stroke="#000"><circle cx="1452" cy="982" r="4.5" fill="#999"/><circle cx="1486" cy="982" r="4.5" fill="#999"/><circle cx="1520" cy="990" r="4.5" fill="#999"/><circle cx="1452" cy="1001" r="4.5" fill="#f00"/><circle cx="1486" cy="1021" r="4.5" fill="#f00"/><circle cx="1520" cy="1080" r="4.5" fill="#f00"/></g>
<path class="e" d="M1528,990H1532V1080H1528"/>
<text class="L" transform="translate(1548,1035) rotate(-90)" text-anchor="middle">**</text>
<text class="L" x="1452" y="1139" text-anchor="middle">2</text><text class="L" x="1486" y="1139" text-anchor="middle">6</text><text class="L" x="1520" y="1139" text-anchor="middle">12</text>
<text class="L" x="1484" y="1157" text-anchor="middle">weeks post surgery</text>
</g>
</svg>
</body></html>
